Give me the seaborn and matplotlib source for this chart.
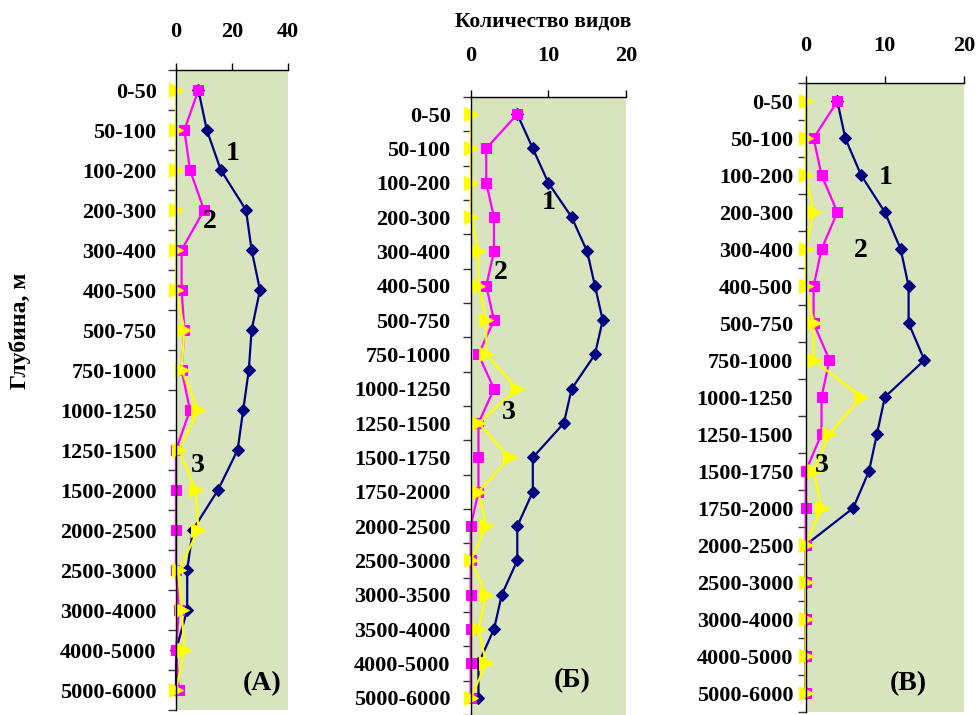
import numpy as np
import matplotlib
matplotlib.use("Agg")
import matplotlib.pyplot as plt
import seaborn as sns

# depth intervals
labels_a = ["0-50", "50-100", "100-200", "200-300", "300-400", "400-500", "500-750",
            "750-1000", "1000-1250", "1250-1500", "1500-2000", "2000-2500", "2500-3000",
            "3000-4000", "4000-5000", "5000-6000"]
labels_b = ["0-50", "50-100", "100-200", "200-300", "300-400", "400-500", "500-750",
            "750-1000", "1000-1250", "1250-1500", "1500-1750", "1750-2000", "2000-2500",
            "2500-3000", "3000-3500", "3500-4000", "4000-5000", "5000-6000"]
labels_c = ["0-50", "50-100", "100-200", "200-300", "300-400", "400-500", "500-750",
            "750-1000", "1000-1250", "1250-1500", "1500-1750", "1750-2000", "2000-2500",
            "2500-3000", "3000-4000", "4000-5000", "5000-6000"]

# species counts, curves 1 / 2 / 3
a1 = [8, 11, 16, 25, 27, 30, 27, 26, 24, 22, 15, 6, 4, 4, 0, 0]
a2 = [8, 3, 5, 10, 2, 2, 3, 2, 5, 0, 0, 0, 0, 1, 0, 1]
a3 = [0, 0, 0, 0, 0, 0, 3, 2, 8, 1, 7, 8, 1, 2, 3, 0]

b1 = [6, 8, 10, 13, 15, 16, 17, 16, 13, 12, 8, 8, 6, 6, 4, 3, 1, 1]
b2 = [6, 2, 2, 3, 3, 2, 3, 1, 3, 1, 1, 1, 0, 0, 0, 0, 0, 0]
b3 = [0, 0, 0, 0, 1, 1, 2, 2, 6, 1, 5, 1, 2, 0, 2, 1, 2, 0]

c1 = [4, 5, 7, 10, 12, 13, 13, 15, 10, 9, 8, 6, 0, 0, 0, 0, 0]
c2 = [4, 1, 2, 4, 2, 1, 1, 3, 2, 2, 0, 0, 0, 0, 0, 0, 0]
c3 = [0, 0, 0, 1, 0, 0, 1, 1, 7, 3, 1, 2, 0, 0, 0, 0, 0]

sns.set_style("white")
plt.rcParams['font.family'] = ['Liberation Serif', 'DejaVu Serif']
plt.rcParams['font.weight'] = 'bold'
plt.rcParams['text.color'] = 'black'
plt.rcParams['xtick.color'] = 'black'
plt.rcParams['ytick.color'] = 'black'

BG = "#D7E4BD"


# draw one panel
def panel(ax, labels, s1, s2, s3, xmax, xticks, ylim, xpad, ypad):
    idx = np.arange(len(labels))
    sns.lineplot(x=s1, y=idx, sort=False, estimator=None, color="#000080", lw=1.6,
                 marker="D", markersize=6.5, markeredgecolor="#000080", clip_on=False, ax=ax)
    sns.lineplot(x=s2, y=idx, sort=False, estimator=None, color="#FF00FF", lw=1.6,
                 marker="s", markersize=7.5, markeredgecolor="#FF00FF", clip_on=False, ax=ax)
    sns.lineplot(x=s3, y=idx, sort=False, estimator=None, color="#FFFF00", lw=1.6,
                 marker=">", markersize=9.5, markeredgecolor="#FFFF00", clip_on=False, ax=ax)
    ax.set_facecolor(BG)
    ax.set_xlim(0, xmax)
    ax.set_ylim(*ylim)
    ax.xaxis.tick_top()
    ax.set_xticks(xticks)
    ax.set_yticks(idx)
    ax.set_yticklabels(labels)
    ax.set_yticks(np.arange(-0.5, len(labels)), minor=True)
    ax.tick_params(axis='y', which='major', length=0, pad=ypad, labelsize=16)
    ax.tick_params(axis='y', which='minor', left=True, length=6, width=1, color="#333333")
    ax.tick_params(axis='x', which='major', top=True, bottom=False, length=5, width=1,
                   direction='out', pad=xpad, labelsize=16)
    for s in ['right', 'bottom']:
        ax.spines[s].set_visible(False)
    for s in ['left', 'top']:
        ax.spines[s].set_color("black")
        ax.spines[s].set_linewidth(1)
    ax.set_xlabel('')
    ax.set_ylabel('')


fig = plt.figure(figsize=(9.76, 7.15), dpi=100)
W, H = 976, 715


def box(left, right, top, bottom):
    return [left / W, 1 - bottom / H, (right - left) / W, (bottom - top) / H]


ax_a = fig.add_axes(box(176, 288, 70, 710))
ax_b = fig.add_axes(box(470.7, 626, 97, 715))
ax_c = fig.add_axes(box(805.7, 964, 82.7, 711.5))

panel(ax_a, labels_a, a1, a2, a3, 40, [0, 20, 40], (15.5, -0.5), 15, 14)
panel(ax_b, labels_b, b1, b2, b3, 20, [0, 10, 20], (17.3, -0.46), 17.5, 14.5)
panel(ax_c, labels_c, c1, c2, c3, 20, [0, 10, 20], (16.5, -0.49), 14.5, 9)

big = dict(fontsize=20, fontweight='bold', ha='center', va='center')
ax_a.text(20.4, 1.6, "1", **big)
ax_a.text(12.1, 3.3, "2", **big)
ax_a.text(7.9, 9.4, "3", **big)
ax_a.text(30.6, 14.83, "(A)", **big)

ax_b.text(10.1, 2.56, "1", **big)
ax_b.text(3.9, 4.6, "2", **big)
ax_b.text(4.9, 8.7, "3", **big)
ax_b.text(13.1, 16.5, "(Б)", **big)

ax_c.text(10.1, 2.05, "1", **big)
ax_c.text(7.0, 4.03, "2", **big)
ax_c.text(2.0, 9.84, "3", **big)
ax_c.text(13.0, 15.74, "(В)", **big)

fig.text(20 / W, 1 - 331 / H, "Глубина, м", rotation=90, ha='center', va='center',
         fontsize=17, fontweight='bold')
fig.text(543 / W, 1 - 22 / H, "Количество видов", ha='center', va='center',
         fontsize=15.5, fontweight='bold')

fig.savefig("out.png", dpi=100, facecolor="white")
